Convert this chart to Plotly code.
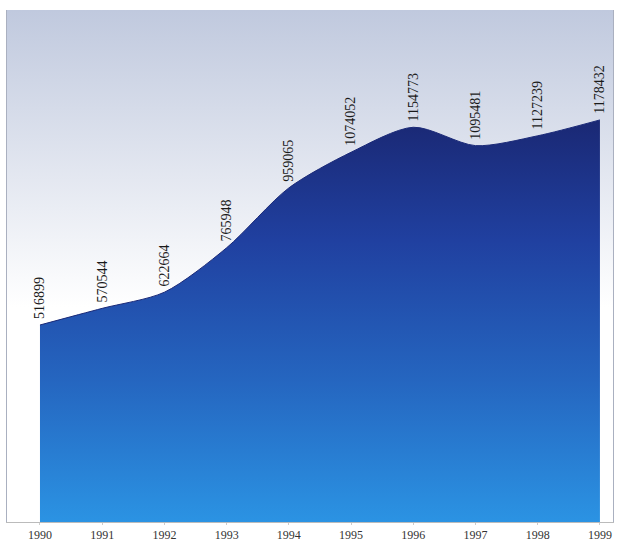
import plotly.graph_objects as go

years = [1990, 1991, 1992, 1993, 1994, 1995, 1996, 1997, 1998, 1999]
values = [516899, 570544, 622664, 765948, 959065, 1074052, 1154773, 1095481, 1127239, 1178432]
labels = [str(v) for v in values]
tick_labels = [str(y) for y in years]

Y_MIN = -118600
Y_MAX = 1533000
X_MIN = 1989.47
X_MAX = 1999.21

fig = go.Figure()

# background gradient (decorative) across the plot area
fig.add_trace(go.Scatter(x=[X_MIN, X_MAX], y=[Y_MIN + 0.42 * (Y_MAX - Y_MIN)] * 2,
                         mode="lines", line=dict(width=0), hoverinfo="skip", showlegend=False))
fig.add_trace(go.Scatter(x=[X_MIN, X_MAX], y=[Y_MAX, Y_MAX], mode="lines", line=dict(width=0),
                         fill="tonexty",
                         fillgradient=dict(type="vertical",
                                           colorscale=[[0, "rgba(255,255,255,1)"], [1, "#c0c9de"]]),
                         hoverinfo="skip", showlegend=False))

# baseline for the area
fig.add_trace(go.Scatter(x=years, y=[Y_MIN] * len(years), mode="lines", line=dict(width=0),
                         hoverinfo="skip", showlegend=False))
fig.add_trace(go.Scatter(
    x=years, y=values, mode="lines", line=dict(color="#1b2a78", width=1, shape="spline", smoothing=0.8),
    fill="tonexty",
    fillgradient=dict(type="vertical",
                      colorscale=[[0, "#2b93e3"], [0.35, "#2566c0"], [0.7, "#2040a0"], [1, "#1a2874"]]),
    showlegend=False))

for x, v, t in zip(years, values, labels):
    fig.add_annotation(x=x, y=v, text=t, textangle=-90, showarrow=False,
                       xanchor="center", yanchor="bottom", yshift=4,
                       font=dict(family="Liberation Serif", size=14, color="#1a1a1a"))

fig.update_layout(
    width=621, height=542,
    margin=dict(l=7, r=8, t=10, b=20, autoexpand=False),
    paper_bgcolor="white", plot_bgcolor="white",
    xaxis=dict(range=[X_MIN, X_MAX], tickmode="array", tickvals=years, ticktext=tick_labels,
               automargin=False,
               showgrid=False, zeroline=False, showline=True, linecolor="#bbbbbb", linewidth=1,
               ticks="outside", ticklen=2, tickcolor="#cccccc",
               tickfont=dict(family="Liberation Serif", size=12, color="#333")),
    yaxis=dict(range=[Y_MIN, Y_MAX], showgrid=False, zeroline=False, showticklabels=False,
               automargin=False,
               showline=True, linecolor="#aab0c0", linewidth=1, mirror=True),
)
fig.write_html("out.html", config={"displayModeBar": False},
               post_script="document.body.style.margin='0';document.body.style.padding='0';document.body.style.overflow='hidden';")
